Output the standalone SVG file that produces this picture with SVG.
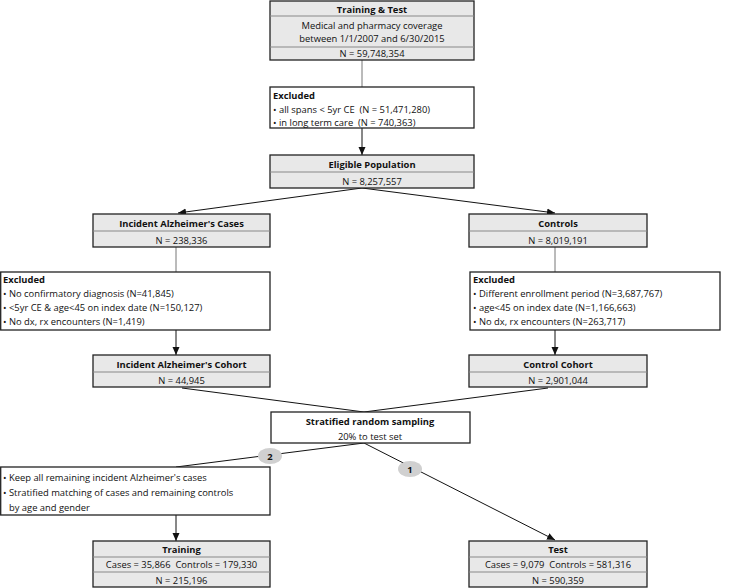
<svg xmlns="http://www.w3.org/2000/svg" width="740" height="588" viewBox="0 0 740 588">
<defs>
<marker id="arr" viewBox="0 0 8 8" refX="8" refY="4" markerWidth="8" markerHeight="8" markerUnits="userSpaceOnUse" orient="auto">
<path d="M0,0.5 L8,4 L0,7.5 Z" fill="#111"/>
</marker>
<style>
text{font-family:"Open Sans","Noto Sans","Liberation Sans",sans-serif;font-size:9.4px;fill:#111;white-space:pre}
.b{font-weight:bold}
.c{text-anchor:middle}
.g{fill:#e8e8e8;stroke:#222;stroke-width:1.3}
.w{fill:#fff;stroke:#222;stroke-width:1.3}
.d{stroke:#888;stroke-width:1}
.ln{stroke:#777;stroke-width:1;fill:none}
.ar{stroke:#111;stroke-width:1;fill:none;marker-end:url(#arr)}
.dl{stroke:#111;stroke-width:1;fill:none}
.cir{fill:#d0d0d0}
</style>
</defs>
<rect width="740" height="588" fill="#fff"/>
<g id="connectors">
<line class="ln" x1="362" y1="60" x2="362" y2="87"/>
<line class="ar" x1="362" y1="128" x2="362" y2="155"/>
<line class="ar" x1="362" y1="188" x2="178" y2="213"/>
<line class="ar" x1="362" y1="188" x2="555" y2="213"/>
<line class="ln" x1="176" y1="247" x2="176" y2="272"/>
<line class="ar" x1="176" y1="330" x2="176" y2="355"/>
<line class="ln" x1="555" y1="247" x2="555" y2="272"/>
<line class="ar" x1="555" y1="330" x2="555" y2="355"/>
<line class="dl" x1="182" y1="388" x2="364" y2="412"/>
<line class="dl" x1="548" y1="388" x2="364" y2="412"/>
<line class="dl" x1="364" y1="443" x2="176" y2="467"/>
<line class="ar" x1="364" y1="443" x2="555" y2="540"/>
<line class="ar" x1="176" y1="515" x2="176" y2="541"/>
</g>
<g id="label2"><ellipse class="cir" cx="270" cy="456" rx="12" ry="8"/><text class="b c" x="270" y="459.5">2</text></g>
<g id="label1"><ellipse class="cir" cx="410" cy="469" rx="12" ry="8"/><text class="b c" x="410" y="472.5">1</text></g>
<g id="training_test">
<rect class="g" x="270" y="1" width="204" height="59"/>
<line class="d" x1="270" y1="16" x2="474" y2="16"/>
<line class="d" x1="270" y1="47" x2="474" y2="47"/>
<text class="b c" x="372" y="13">Training &amp; Test</text>
<text class="c" x="372" y="28.5">Medical and pharmacy coverage</text>
<text class="c" x="372" y="42">between 1/1/2007 and 6/30/2015</text>
<text class="c" x="372" y="57" xml:space="preserve">N = 59,748,354</text>
</g>
<g id="excluded_top">
<rect class="w" x="270" y="87" width="204" height="41"/>
<text class="b" x="273" y="98.5">Excluded</text>
<text x="273" y="113" xml:space="preserve">• all spans &lt; 5yr CE  (N = 51,471,280)</text>
<text x="273" y="126" xml:space="preserve">• in long term care  (N = 740,363)</text>
</g>
<g id="eligible">
<rect class="g" x="270" y="155" width="204" height="33"/>
<line class="d" x1="270" y1="172" x2="474" y2="172"/>
<text class="b c" x="372" y="168">Eligible Population</text>
<text class="c" x="372" y="184.5">N = 8,257,557</text>
</g>
<g id="cases">
<rect class="g" x="93" y="214" width="177" height="33"/>
<line class="d" x1="93" y1="231" x2="270" y2="231"/>
<text class="b c" x="181.5" y="227">Incident Alzheimer's Cases</text>
<text class="c" x="181.5" y="243.5">N = 238,336</text>
</g>
<g id="controls">
<rect class="g" x="469" y="214" width="178" height="33"/>
<line class="d" x1="469" y1="231" x2="647" y2="231"/>
<text class="b c" x="558" y="227">Controls</text>
<text class="c" x="558" y="243.5">N = 8,019,191</text>
</g>
<g id="excluded_left">
<rect class="w" x="0.7" y="272" width="269.3" height="58"/>
<text class="b" x="3" y="283">Excluded</text>
<text x="3" y="297">• No confirmatory diagnosis (N=41,845)</text>
<text x="3" y="311">• &lt;5yr CE &amp; age&lt;45 on index date (N=150,127)</text>
<text x="3" y="325">• No dx, rx encounters (N=1,419)</text>
</g>
<g id="excluded_right">
<rect class="w" x="470" y="272" width="250" height="58"/>
<text class="b" x="473" y="283">Excluded</text>
<text x="473" y="297">• Different enrollment period (N=3,687,767)</text>
<text x="473" y="311">• age&lt;45 on index date (N=1,166,663)</text>
<text x="473" y="325">• No dx, rx encounters (N=263,717)</text>
</g>
<g id="cohort_cases">
<rect class="g" x="93" y="355" width="177" height="32"/>
<line class="d" x1="93" y1="372" x2="270" y2="372"/>
<text class="b c" x="181.5" y="367.5">Incident Alzheimer's Cohort</text>
<text class="c" x="181.5" y="384">N = 44,945</text>
</g>
<g id="cohort_controls">
<rect class="g" x="469" y="355" width="178" height="32"/>
<line class="d" x1="469" y1="372" x2="647" y2="372"/>
<text class="b c" x="558" y="367.5">Control Cohort</text>
<text class="c" x="558" y="384">N = 2,901,044</text>
</g>
<g id="sampling">
<rect class="w" x="271" y="412" width="199" height="31"/>
<text class="b c" x="370" y="425">Stratified random sampling</text>
<text class="c" x="370" y="439.5">20% to test set</text>
</g>
<g id="keep">
<rect class="w" x="0.7" y="467" width="269.3" height="48"/>
<text x="3" y="481">• Keep all remaining incident Alzheimer's cases</text>
<text x="3" y="496">• Stratified matching of cases and remaining controls</text>
<text x="9" y="511">by age and gender</text>
</g>
<g id="training">
<rect class="g" x="93" y="541" width="177" height="46"/>
<line class="d" x1="93" y1="557" x2="270" y2="557"/>
<line class="d" x1="93" y1="572" x2="270" y2="572"/>
<text class="b c" x="181.5" y="553">Training</text>
<text class="c" x="181.5" y="568" xml:space="preserve">Cases = 35,866  Controls = 179,330</text>
<text class="c" x="181.5" y="583.5">N = 215,196</text>
</g>
<g id="test">
<rect class="g" x="469" y="541" width="178" height="46"/>
<line class="d" x1="469" y1="557" x2="647" y2="557"/>
<line class="d" x1="469" y1="572" x2="647" y2="572"/>
<text class="b c" x="558" y="553">Test</text>
<text class="c" x="558" y="568" xml:space="preserve">Cases = 9,079  Controls = 581,316</text>
<text class="c" x="558" y="583.5">N = 590,359</text>
</g>
</svg>
